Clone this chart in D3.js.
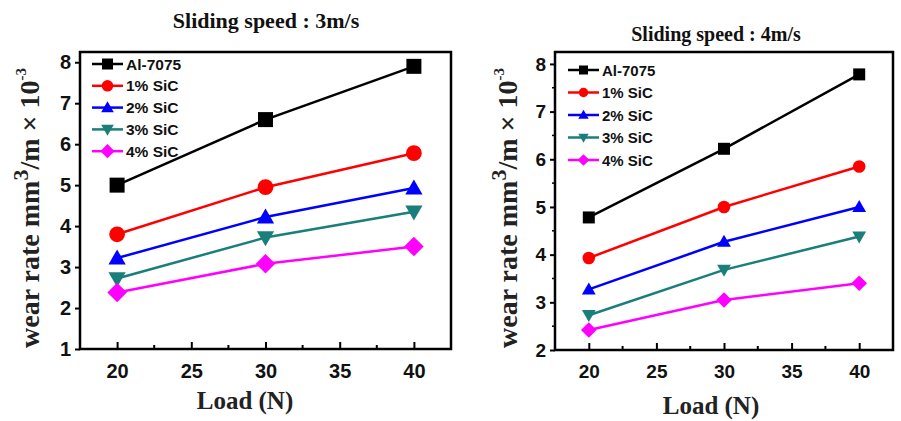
<!DOCTYPE html>
<html>
<head>
<meta charset="utf-8">
<script src="https://cdn.jsdelivr.net/npm/d3@7"></script>
<style>
  body { margin: 0; background: #fff; }
  svg { display: block; }
</style>
</head>
<body>
<div id="chart"></div>
<script>
// datos
var loads = [20, 30, 40];
var seriesNames = ["Al-7075", "1% SiC", "2% SiC", "3% SiC", "4% SiC"];
var seriesColors = ["#000000", "#ff0000", "#0000ff", "#1a7f7a", "#ff00ff"];
var seriesShapes = ["square", "circle", "triangle", "triangleDown", "diamond"];

// Sliding speed 3 m/s
var wear3 = [
  [5.0, 6.6, 7.9],
  [3.8, 4.95, 5.78],
  [3.22, 4.22, 4.93],
  [2.72, 3.72, 4.35],
  [2.38, 3.08, 3.5]
];
// Sliding speed 4 m/s
var wear4 = [
  [4.78, 6.22, 7.78],
  [3.93, 5.0, 5.85],
  [3.27, 4.27, 5.0],
  [2.73, 3.68, 4.38],
  [2.42, 3.05, 3.4]
];

var xTicks = [20, 25, 30, 35, 40];
var yTicks3 = [1, 2, 3, 4, 5, 6, 7, 8];
var yTicks4 = [2, 3, 4, 5, 6, 7, 8];

var ancho = 901, alto = 421;

var svg = d3.select("#chart").append("svg")
  .attr("width", ancho)
  .attr("height", alto);

function simbolo(shape, s) {
  // s = medio lado aproximado
  if (shape === "square") return "M" + (-s) + "," + (-s) + "h" + (2 * s) + "v" + (2 * s) + "h" + (-2 * s) + "Z";
  if (shape === "circle") return d3.symbol().type(d3.symbolCircle).size(Math.PI * s * s * 1.1)();
  if (shape === "triangle") return "M0," + (-s * 1.15) + "L" + (s * 1.15) + "," + (s * 0.85) + "L" + (-s * 1.15) + "," + (s * 0.85) + "Z";
  if (shape === "triangleDown") return "M0," + (s * 1.15) + "L" + (s * 1.15) + "," + (-s * 0.85) + "L" + (-s * 1.15) + "," + (-s * 0.85) + "Z";
  if (shape === "diamond") return "M0," + (-s * 1.3) + "L" + (s * 1.3) + ",0L0," + (s * 1.3) + "L" + (-s * 1.3) + ",0Z";
}

function panel(cfg) {
  var g = svg.append("g");

  var x = d3.scaleLinear().domain([17.5, 42.5]).range([cfg.left, cfg.right]);
  var y = d3.scaleLinear().domain(cfg.yDomain).range([cfg.bottom, cfg.top]);

  // titulo
  g.append("text")
    .text(cfg.title)
    .attr("x", cfg.titleX)
    .attr("y", cfg.titleY)
    .attr("text-anchor", "middle")
    .attr("font-family", "Liberation Serif, Times New Roman, serif")
    .attr("font-weight", "bold")
    .attr("font-size", cfg.titleSize)
    .attr("fill", "#111");

  // eje x: ticks hacia adentro
  var ejeX = g.append("g")
    .attr("transform", "translate(0," + cfg.bottom + ")")
    .call(d3.axisBottom(x).tickValues(xTicks).tickSizeInner(-7).tickSizeOuter(0).tickPadding(15).tickFormat(d3.format("d")));
  ejeX.select(".domain").remove();
  ejeX.selectAll("line").attr("stroke", "#000").attr("stroke-width", 2);
  ejeX.selectAll("text")
    .attr("font-family", "Liberation Sans, Arial, sans-serif")
    .attr("font-weight", "bold")
    .attr("font-size", cfg.tickSize)
    .attr("fill", "#111");

  // ticks menores x
  g.append("g").selectAll("line")
    .data([22.5, 27.5, 32.5, 37.5])
    .enter().append("line")
    .attr("x1", function (d) { return x(d); })
    .attr("x2", function (d) { return x(d); })
    .attr("y1", cfg.bottom)
    .attr("y2", cfg.bottom - 4)
    .attr("stroke", "#000")
    .attr("stroke-width", 2);

  // eje y: ticks hacia afuera
  var ejeY = g.append("g")
    .attr("transform", "translate(" + cfg.left + ",0)")
    .call(d3.axisLeft(y).tickValues(cfg.yTicks).tickSizeInner(5).tickSizeOuter(0).tickPadding(4).tickFormat(d3.format("d")));
  ejeY.select(".domain").remove();
  ejeY.selectAll("line").attr("stroke", "#000").attr("stroke-width", 2);
  ejeY.selectAll("text")
    .attr("font-family", "Liberation Sans, Arial, sans-serif")
    .attr("font-weight", "bold")
    .attr("font-size", cfg.tickSize)
    .attr("fill", "#111");

  if (cfg.yMinor) {
    g.append("g").selectAll("line")
      .data(cfg.yMinor)
      .enter().append("line")
      .attr("x1", cfg.left)
      .attr("x2", cfg.left - 3)
      .attr("y1", function (d) { return y(d); })
      .attr("y2", function (d) { return y(d); })
      .attr("stroke", "#000")
      .attr("stroke-width", 1.5);
  }

  // marco
  g.append("rect")
    .attr("x", cfg.left)
    .attr("y", cfg.top)
    .attr("width", cfg.right - cfg.left)
    .attr("height", cfg.bottom - cfg.top)
    .attr("fill", "none")
    .attr("stroke", "#000")
    .attr("stroke-width", 2.5);

  // etiqueta eje x
  g.append("text")
    .text("Load (N)")
    .attr("x", cfg.xLabelX)
    .attr("y", cfg.xLabelY)
    .attr("text-anchor", "middle")
    .attr("font-family", "Liberation Serif, Times New Roman, serif")
    .attr("font-weight", "bold")
    .attr("font-size", 25)
    .attr("fill", "#222");

  // etiqueta eje y
  var yl = g.append("text")
    .attr("transform", "translate(" + cfg.yLabelX + "," + cfg.yLabelY + ") rotate(-90)")
    .attr("text-anchor", "middle")
    .attr("font-family", "Liberation Serif, Times New Roman, serif")
    .attr("font-weight", "bold")
    .attr("font-size", 28)
    .attr("fill", "#222");
  yl.append("tspan").text("wear rate mm");
  yl.append("tspan").text("3").attr("dy", -11).attr("font-size", 22);
  yl.append("tspan").text("/m \u00D7 10").attr("dy", 11);
  yl.append("tspan").text("-3").attr("dy", -13).attr("font-size", 15);

  // lineas y marcadores
  var linea = d3.line()
    .x(function (d, i) { return x(loads[i]); })
    .y(function (d) { return y(d); });

  cfg.data.forEach(function (serie, k) {
    g.append("path")
      .attr("d", linea(serie))
      .attr("fill", "none")
      .attr("stroke", seriesColors[k])
      .attr("stroke-width", 2.5);

    g.append("g").selectAll("path")
      .data(serie)
      .enter().append("path")
      .attr("transform", function (d, i) { return "translate(" + x(loads[i]) + "," + y(d) + ")"; })
      .attr("d", simbolo(seriesShapes[k], cfg.markSize))
      .attr("fill", seriesColors[k]);
  });

  // leyenda
  var leyenda = g.append("g").attr("class", "leyenda");
  seriesNames.forEach(function (nombre, k) {
    var yy = cfg.legY + k * cfg.legStep;
    leyenda.append("line")
      .attr("x1", cfg.legX)
      .attr("x2", cfg.legX + 31)
      .attr("y1", yy)
      .attr("y2", yy)
      .attr("stroke", seriesColors[k])
      .attr("stroke-width", 2.5);
    leyenda.append("path")
      .attr("transform", "translate(" + (cfg.legX + 15.5) + "," + yy + ")")
      .attr("d", simbolo(seriesShapes[k], cfg.legMark))
      .attr("fill", seriesColors[k]);
    leyenda.append("text")
      .text(nombre)
      .attr("x", cfg.legX + 34)
      .attr("y", yy + 5.5)
      .attr("font-family", "Liberation Sans, Arial, sans-serif")
      .attr("font-weight", "bold")
      .attr("font-size", cfg.legFont)
      .attr("fill", "#111");
  });
}

panel({
  title: "Sliding speed : 3m/s", titleX: 266, titleY: 28, titleSize: 22,
  left: 80, right: 451, top: 52, bottom: 349,
  yDomain: [1, 8.25], yTicks: yTicks3, yMinor: null,
  tickSize: 20, data: wear3, markSize: 7.5,
  xLabelX: 245, xLabelY: 409, yLabelX: 39, yLabelY: 208,
  legX: 92, legY: 64, legStep: 21.8, legMark: 5.5, legFont: 15.5
});

panel({
  title: "Sliding speed : 4m/s", titleX: 716, titleY: 41, titleSize: 20,
  left: 555, right: 893, top: 52, bottom: 350,
  yDomain: [2, 8.25], yTicks: yTicks4, yMinor: [2.5, 3.5, 4.5, 5.5, 6.5, 7.5],
  tickSize: 19, data: wear4, markSize: 6,
  xLabelX: 711, xLabelY: 414, yLabelX: 517, yLabelY: 208,
  legX: 568, legY: 70, legStep: 22.5, legMark: 4.5, legFont: 15
});
</script>
</body>
</html>
